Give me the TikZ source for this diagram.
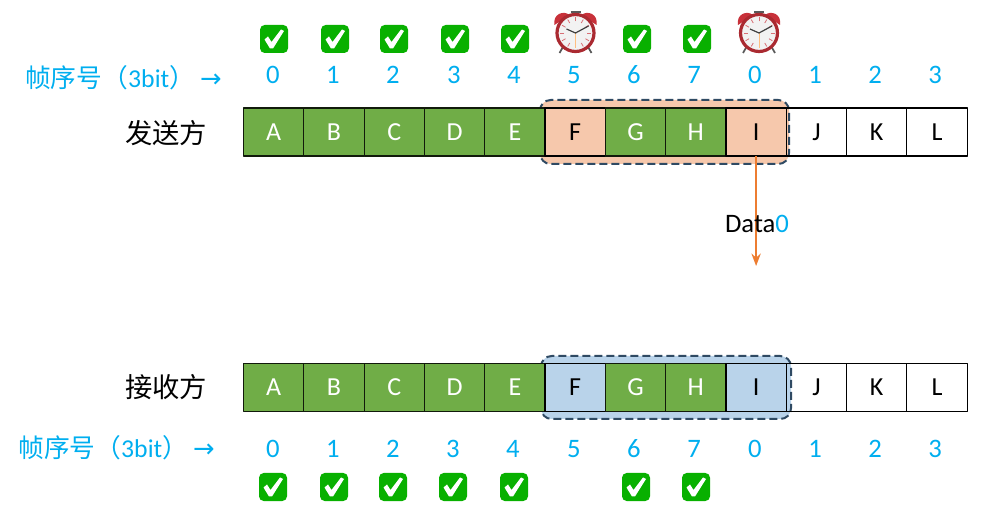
\documentclass[tikz,border=0pt]{standalone}
\usepackage{fontspec}
\setmainfont{Carlito}
\newfontfamily\cjkfont{Noto Sans CJK SC}
\newfontfamily\arrowfont{DejaVu Sans}
\usetikzlibrary{arrows.meta}
\definecolor{seqblue}{HTML}{00AEEF}
\definecolor{framegreen}{HTML}{70AD47}
\definecolor{sendfill}{HTML}{F6C8AC}
\definecolor{recvfill}{HTML}{B9D3EA}
\definecolor{winedge}{HTML}{2F4A63}
\definecolor{linkorange}{HTML}{ED7D31}
\definecolor{okgreen}{HTML}{08B000}
\definecolor{bellred}{HTML}{C8313A}
\tikzset{
	plaincell/.style={draw=black, line width=0.9pt, minimum width=45.2pt, minimum height=36pt, inner sep=0pt, outer sep=0pt, text=black, font=\fontsize{19.5}{20}\selectfont},
	greencell/.style={plaincell, fill=framegreen, draw=black!85!framegreen, text=white},
	seqlabel/.style={text=seqblue, inner sep=0pt, font=\fontsize{20}{22}\selectfont},
	seqtitle/.style={text=seqblue, inner sep=0pt, font=\fontsize{19.3}{20}\selectfont},
	sidetitle/.style={text=black, inner sep=0pt, font=\cjkfont\fontsize{20.5}{22}\selectfont},
	winbox/.style={draw=winedge, line width=1.5pt, dash pattern=on 6pt off 3pt, rounded corners=8pt},
	okmark/.pic={
		\fill[okgreen, rounded corners=3.5pt] (-14,-14) rectangle (14,14);
		\fill[white] (-9.5,0.5)--(-6,-2.5)--(-2.5,3)--(7,-9.5)--(10,-8)--(-1,9.5)--(-4,9.5)--cycle;
	},
	alarmclock/.pic={
		\draw[gray!70!black, line width=1.3pt] (-12,13)--(-16,20) (12,13)--(16,20) (0,-17)--(0,-21);
		\fill[bellred] (-21,-8) .. controls (-23,-19) and (-12,-23) .. (-6,-18) -- cycle;
		\fill[bellred] (21,-8) .. controls (23,-19) and (12,-23) .. (6,-18) -- cycle;
		\draw[gray!70!black, line width=1pt] (-5,-21)--(5,-21);
		\draw[fill=gray!10, draw=bellred!85!black, line width=2.4pt] (0,0) circle[radius=18.5];
		\foreach \tickangle in {0,30,...,330}
			\draw[bellred!70, line width=0.6pt] (\tickangle:11.5)--(\tickangle:15.5);
		\draw[orange!50!white, line width=0.5pt] (0,0)--(0,15);
		\draw[black!75, line width=0.9pt] (-9,-4)--(0,0)--(13,-7);
	}
}
\begin{document}
\begin{tikzpicture}[x=0.75pt, y=-0.75pt, line join=round, >=Stealth]
	\useasboundingbox (0,0) rectangle (982,509);
	\draw[winbox, fill=sendfill] (540,100) rectangle (789,164);
	\draw[winbox, fill=recvfill] (541,356) rectangle (791,419);
	\foreach \rowname/\rowy in {top/132, bot/387.5}
		\foreach \cellname/\cellstyle [count=\i from 0] in {A/greencell, B/greencell, C/greencell, D/greencell, E/greencell, F/plaincell, G/greencell, H/greencell, I/plaincell, J/plaincell, K/plaincell, L/plaincell}
			\node[\cellstyle] (\rowname\cellname) at ({273.7+60.3*\i},\rowy) {\cellname};
	\foreach \seqname/\seqx/\seqtext in {a/273/0, b/333/1, c/393/2, d/454/3, e/514/4, f/574/5, g/634/6, h/694/7, i/755/0, j/815/1, k/875/2, l/935/3}
		\node[seqlabel] (seqtop\seqname) at (\seqx,75) {\seqtext};
	\foreach \seqname/\seqx/\seqtext in {a/273/0, b/333/1, c/393/2, d/453/3, e/513/4, f/574/5, g/634/6, h/694/7, i/755/0, j/815/1, k/875/2, l/935/3}
		\node[seqlabel] (seqbot\seqname) at (\seqx,449) {\seqtext};
	\node[seqtitle, anchor=west] (titletop) at (25,78) {{\cjkfont 帧序号（}3bit{\cjkfont ）}\hspace{0.2em}{\arrowfont →}};
	\node[seqtitle, anchor=west] (titlebot) at (18,448) {{\cjkfont 帧序号（}3bit{\cjkfont ）}\hspace{0.2em}{\arrowfont →}};
	\node[sidetitle] (sender) at (166,133) {发送方};
	\node[sidetitle] (receiver) at (166,387) {接收方};
	\foreach \okx in {274,335,394,455,515,637,697}
		\pic at (\okx,39) {okmark};
	\foreach \okx in {273,334,393,453,514,636,696}
		\pic at (\okx,487) {okmark};
	\pic at (575.5,33) {alarmclock};
	\pic at (759,33) {alarmclock};
	\coordinate (linkend) at (topI.south |- 0,266);
	\draw[->, linkorange, line width=1.4pt] (topI.south)--(linkend);
	\node[text=black, inner sep=0pt, font=\fontsize{20}{22}\selectfont] (datalabel) at (757,224) {Data\textcolor{seqblue}{0}};
\end{tikzpicture}
\end{document}
